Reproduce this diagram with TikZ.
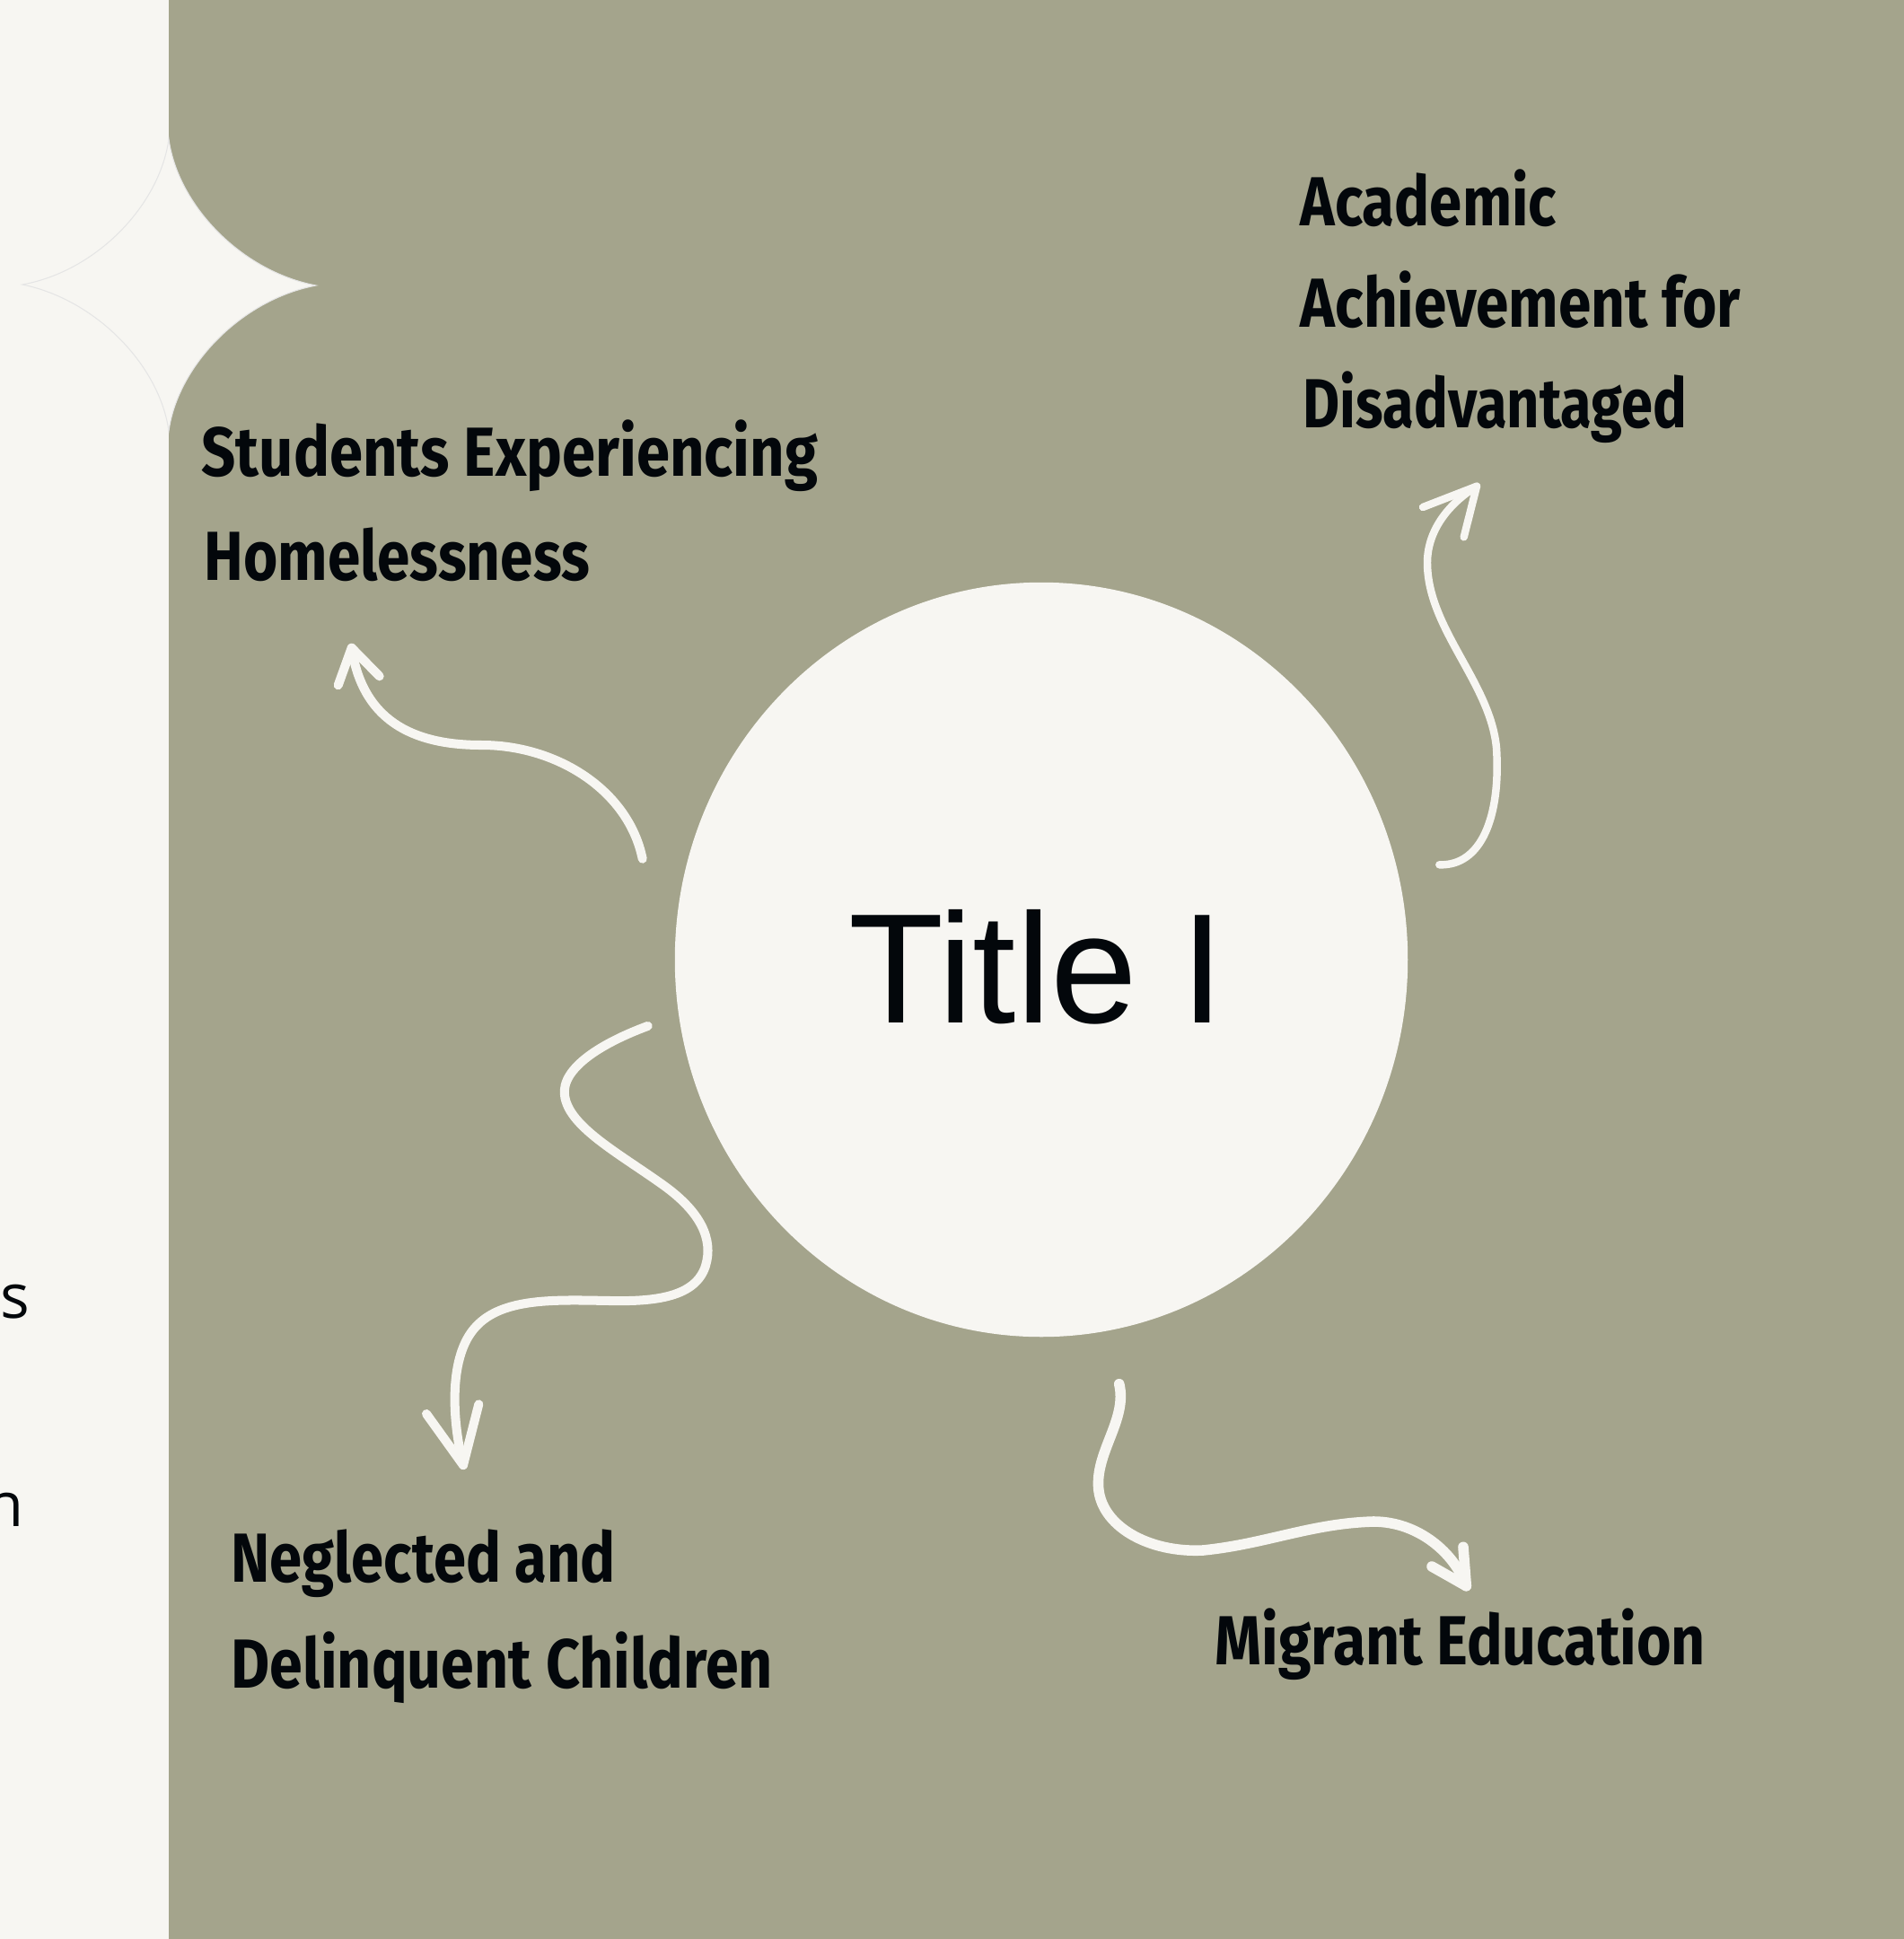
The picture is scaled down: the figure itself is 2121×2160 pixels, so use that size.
\documentclass[tikz,border=0pt]{standalone}
\usepackage{fontspec}
\usepackage{graphicx}
\setmainfont{Liberation Sans}
\newfontfamily\labfont{Fira Sans}
\newfontfamily\sidefont{Open Sans}
\definecolor{sage}{HTML}{A4A48C}
\definecolor{cream}{HTML}{F7F6F2}
\definecolor{ink}{HTML}{03070B}
\newdimen\fitw
\newcommand\fitline[2]{\settowidth\fitw{#2}\scalebox{\fpeval{#1*0.28453/\fitw}}[1]{#2}}
\tikzset{
  lab/.style={font=\labfont\bfseries\fontsize{22pt}{26pt}\selectfont, text=ink, inner sep=0pt, anchor=base west},
  side/.style={font=\sidefont\fontsize{19.5pt}{24pt}\selectfont, text=ink, inner sep=0pt, anchor=base east},
  wire/.style={draw=cream, line width=2.85pt, line cap=round, line join=round},
}
\begin{document}
\begin{tikzpicture}[x=0.01cm,y=-0.01cm]
\useasboundingbox (0,0) rectangle (2121,2160);
% backgrounds
\fill[cream] (0,0) rectangle (2121,2160);
\fill[sage] (188,0) rectangle (2121,2160);
% star
\filldraw[fill=cream, draw=black!10, line width=0.3pt]
  (188,155) .. controls (198,228) and (268,302) .. (352,318)
  .. controls (268,334) and (198,408) .. (188,480)
  .. controls (178,408) and (108,334) .. (25,317)
  .. controls (108,302) and (178,228) .. (188,155) -- cycle;
% central blob
\fill[cream] (1160,1069) ellipse [x radius=4.08cm, y radius=4.2cm];
\node[font=\fontsize{49.5pt}{56pt}\selectfont, text=ink, inner sep=0pt, anchor=base west] (title) at (945,1139) {\fitline{418}{Title I}};
% labels
\node[lab] (hom1) at (224,530) {\fitline{686}{Students Experiencing}};
\node[lab] (hom2) at (227,646) {\fitline{429}{Homelessness}};
\node[lab] (aca1) at (1448,251.7) {\fitline{285}{Academic}};
\node[lab] (aca2) at (1448,364) {\fitline{490}{Achievement for}};
\node[lab] (aca3) at (1451,476) {\fitline{427}{Disadvantaged}};
\node[lab] (neg1) at (257,1762) {\fitline{428}{Neglected and}};
\node[lab] (neg2) at (257,1880) {\fitline{603}{Delinquent Children}};
\node[lab] (mig) at (1353,1854) {\fitline{546}{Migrant Education}};
% partial side text
\node[side] (s1) at (34,1468) {s};
\node[side] (n1) at (27,1700) {n};
% arrow 1 -> Homelessness
\coordinate (a1s) at (715.7,956.7);
\coordinate (a1t) at (391.7,721.7);
\draw[wire] (a1s) .. controls (700,880) and (620,830) .. (536.7,830)
  .. controls (470,830) and (405,810) .. (a1t);
\draw[wire] (376.7,763.3) -- (a1t) -- (422.7,753.3);
% arrow 2 -> Academic
\coordinate (a2s) at (1603.3,963.3);
\coordinate (a2t) at (1645,541.7);
\draw[wire, line width=2.4pt] (a2s) .. controls (1650,965) and (1672,910) .. (1667,833)
  .. controls (1660,760) and (1590,700) .. (1590,626.7)
  .. controls (1590,590) and (1615,560) .. (a2t);
\draw[wire, line width=2.4pt] (1585,565) -- (a2t) -- (1630.7,598.3);
% arrow 3 -> Neglected
\coordinate (a3s) at (721.7,1142.9);
\coordinate (a3t) at (516,1632.1);
\draw[wire] (a3s) .. controls (670,1162) and (625,1190) .. (629,1220)
  .. controls (633,1255) and (690,1285) .. (740,1321)
  .. controls (780,1350) and (795,1380) .. (786,1410)
  .. controls (775,1445) and (730,1450) .. (680,1449)
  .. controls (620,1448) and (560,1445) .. (530,1478)
  .. controls (500,1510) and (503,1580) .. (a3t);
\draw[wire] (475,1575) -- (a3t) -- (533.3,1564.3);
% arrow 4 -> Migrant
\coordinate (a4s) at (1246.7,1541.7);
\coordinate (a4t) at (1633.3,1766.7);
\draw[wire, line width=3.3pt] (a4s) .. controls (1256,1580) and (1222,1615) .. (1223.5,1655)
  .. controls (1225,1700) and (1280,1730) .. (1340,1727)
  .. controls (1410,1720) and (1460,1697) .. (1530,1695)
  .. controls (1580,1695) and (1620,1730) .. (a4t);
\draw[wire, line width=3.3pt] (1595,1745) -- (a4t) -- (1630,1723.3);
\end{tikzpicture}
\end{document}
